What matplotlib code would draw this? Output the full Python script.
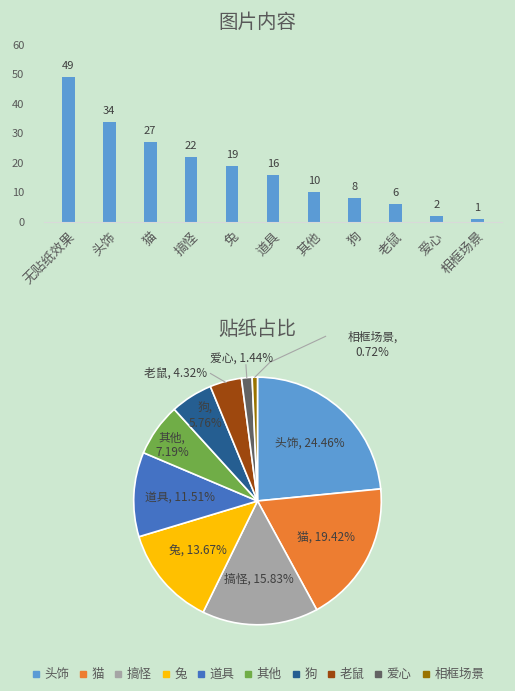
import matplotlib
matplotlib.use("Agg")
import matplotlib.pyplot as plt
import numpy as np

plt.rcParams["font.family"] = ["Noto Sans CJK SC", "DejaVu Sans"]

BG = "#cde8d0"
TXT = "#404040"

bar_cats = ["无贴纸效果", "头饰", "猫", "搞怪", "兔", "道具", "其他", "狗", "老鼠", "爱心", "相框场景"]
bar_vals = [49, 34, 27, 22, 19, 16, 10, 8, 6, 2, 1]

pie_cats = ["头饰", "猫", "搞怪", "兔", "道具", "其他", "狗", "老鼠", "爱心", "相框场景"]
pie_pcts = [24.46, 19.42, 15.83, 13.67, 11.51, 7.19, 5.76, 4.32, 1.44, 0.72]
pie_colors = ["#5b9bd5", "#ed7d31", "#a5a5a5", "#ffc000", "#4472c4",
              "#70ad47", "#255e91", "#9e480e", "#636363", "#997300"]

fig = plt.figure(figsize=(5.15, 6.91), dpi=100, facecolor=BG)
fig.text(0.5, 0.968, "图片内容", ha="center", va="center", fontsize=14, color="#595959")

ax = fig.add_axes([0.085, 0.679, 0.89, 0.256], facecolor=BG)
x = np.arange(len(bar_cats))
ax.bar(x, bar_vals, width=0.31, color="#5b9bd5")
for xi, v in zip(x, bar_vals):
    ax.text(xi, v + 2, str(v), ha="center", va="bottom", fontsize=8, color=TXT)
ax.set_ylim(0, 60)
ax.set_xlim(-0.6, len(bar_cats) - 0.4)
ax.set_yticks(range(0, 61, 10))
ax.set_xticks(x)
ax.set_xticklabels(bar_cats, rotation=45, ha="right", rotation_mode="anchor", fontsize=9.5, color="#595959")
ax.tick_params(axis="x", length=0, pad=6)
ax.tick_params(axis="y", length=0, labelsize=8, colors="#595959", pad=14)
for s in ["top", "right", "left"]:
    ax.spines[s].set_visible(False)
ax.spines["bottom"].set_color("#d9d9d9")

fig.text(0.5, 0.523, "贴纸占比", ha="center", va="center", fontsize=14, color="#595959")
pax = fig.add_axes([0.0, 0.06, 1.0, 0.43], facecolor=BG)
wedges, _ = pax.pie(pie_pcts, colors=pie_colors, startangle=90, counterclock=False,
                    radius=1.0, wedgeprops=dict(edgecolor="white", linewidth=1.2))
pax.set_xlim(-2.08, 2.08)
pax.set_ylim(-1.2, 1.2)
pax.set_aspect("equal")

inner_pos = {5: (-0.69, 0.45), 6: (-0.42, 0.69)}
outer_pos = {7: (-0.66, 1.03), 8: (-0.13, 1.15), 9: (0.93, 1.26)}
for i, (w, c, p) in enumerate(zip(wedges, pie_cats, pie_pcts)):
    ang = np.deg2rad((w.theta1 + w.theta2) / 2)
    ca, sa = np.cos(ang), np.sin(ang)
    if i < 5:
        pax.text(0.63 * ca, 0.63 * sa, f"{c}, {p:.2f}%", ha="center", va="center", fontsize=8.5, color=TXT)
    elif i < 7:
        pos = inner_pos[i]
        pax.text(pos[0], pos[1], f"{c},\n{p:.2f}%", ha="center", va="center", fontsize=8.5, color=TXT)
    else:
        pos = outer_pos[i]
        txt = f"{c},\n{p:.2f}%" if i == 9 else f"{c}, {p:.2f}%"
        pax.text(pos[0], pos[1], txt, ha="center", va="center", fontsize=8.5, color=TXT,
                 linespacing=1.3, clip_on=False)
        if i == 7:
            pax.plot([0.99 * ca, -0.38], [0.99 * sa, 1.03], color="#a6a6a6", lw=0.8)
        elif i == 8:
            pax.plot([ca, 1.08 * ca], [sa, 1.1], color="#a6a6a6", lw=0.8)
        else:
            pax.plot([ca, 0.1, 0.55], [sa, 1.12, 1.33], color="#a6a6a6", lw=0.8, clip_on=False)

handles = [plt.Line2D([], [], marker="s", ls="", color=col, markersize=5) for col in pie_colors]
fig.legend(handles, pie_cats, loc="center", bbox_to_anchor=(0.5, 0.024), ncol=10, frameon=False,
           fontsize=9, handlelength=0.8, handletextpad=0.3, columnspacing=0.7, labelcolor="#595959")

fig.savefig("out.png", dpi=100, facecolor=BG)
